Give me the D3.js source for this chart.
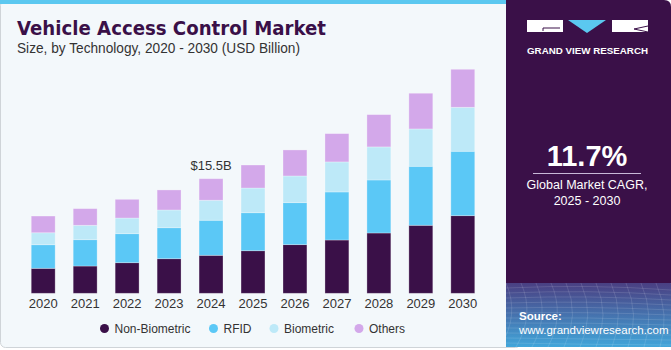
<!DOCTYPE html>
<html>
<head>
<meta charset="utf-8">
<script src="https://cdn.jsdelivr.net/npm/d3@7"></script>
<style>
  body { margin: 0; background: #fff; }
  svg { display: block; font-family: "Liberation Sans", Arial, sans-serif; }
</style>
</head>
<body>
<div id="chart"></div>
<script>
const years = ["2020","2021","2022","2023","2024","2025","2026","2027","2028","2029","2030"];
const nonBiometric = [3.38, 3.69, 4.14, 4.68, 5.14, 5.76, 6.58, 7.21, 8.16, 9.20, 10.50];
const rfid         = [3.19, 3.56, 3.92, 4.19, 4.74, 5.14, 5.68, 6.50, 7.17, 7.98, 8.71];
const biometric    = [1.62, 1.95, 2.12, 2.40, 2.71, 3.34, 3.61, 4.06, 4.47, 5.05, 5.95];
const others       = [2.26, 2.25, 2.53, 2.71, 2.91, 3.11, 3.52, 3.83, 4.37, 4.83, 5.14];
const seriesNames = ["Non-Biometric", "RFID", "Biometric", "Others"];
const seriesColors = ["#3a1048", "#5bc8f6", "#bde9f8", "#d3a8ea"];
const calloutYear = "2024", calloutLabel = "$15.5B";

let width = 671, height = 350,
    margin = ({ top: 60, right: 186, bottom: 57, left: 22 });

const svg = d3.select("#chart").append("svg")
  .attr("width", width).attr("height", height)
  .attr("viewBox", [0, 0, width, height]);

// background panels
svg.append("rect").attr("x", 0).attr("y", 0).attr("width", width).attr("height", height).attr("fill", "#ffffff");
svg.append("rect").attr("x", 0.5).attr("y", 0.5).attr("width", 520).attr("height", 347)
  .attr("rx", 5).attr("fill", "#f3f8fb").attr("stroke", "#cfd4d8");
svg.append("rect").attr("x", 0).attr("y", 0).attr("width", 508).attr("height", 4).attr("fill", "#5bc8f0");

const defs = svg.append("defs");
const grad = defs.append("linearGradient").attr("id", "src").attr("x1", 0).attr("y1", 0).attr("x2", 0).attr("y2", 1);
grad.append("stop").attr("offset", 0).attr("stop-color", "#4a3f82");
grad.append("stop").attr("offset", 1).attr("stop-color", "#41a6da");

svg.append("path")
  .attr("d", `M506,0 H664 Q671,0 671,7 V347 H506 Z`)
  .attr("fill", "#3a1048");
svg.append("rect").attr("x", 506).attr("y", 283).attr("width", 165).attr("height", 64).attr("fill", "url(#src)");

// faint mesh lines in the source area
const mesh = svg.append("g").attr("stroke", "#ffffff").attr("stroke-opacity", 0.12).attr("fill", "none");
for (let i = 0; i < 12; i++) {
  mesh.append("path").attr("d", `M${506 + i * 15},283 Q${520 + i * 15},315 ${500 + i * 16},347`);
  mesh.append("path").attr("d", `M506,${288 + i * 5} Q590,${284 + i * 5.5} 671,${290 + i * 5}`);
}

// title
svg.append("text").attr("x", 17).attr("y", 35).text("Vehicle Access Control Market")
  .attr("font-size", 20).attr("font-weight", 900).attr("fill", "#3a1048")
  .attr("textLength", 309).attr("lengthAdjust", "spacingAndGlyphs")
  .style("font-family", "'DejaVu Sans', sans-serif");
svg.append("text").attr("x", 17).attr("y", 53).text("Size, by Technology, 2020 - 2030 (USD Billion)")
  .attr("font-size", 14).attr("fill", "#333").attr("textLength", 283).attr("lengthAdjust", "spacingAndGlyphs");

// logo
const logo = svg.append("g");
logo.append("rect").attr("x", 527).attr("y", 20).attr("width", 36).attr("height", 12).attr("fill", "#fff");
logo.append("path").attr("d", "M543,28 V31 M543,28 H560").attr("stroke", "#3a1048").attr("stroke-width", 1);
logo.append("path").attr("d", "M568,20 H606 L587,33 Z").attr("fill", "#5bc8f0");
logo.append("rect").attr("x", 612).attr("y", 20).attr("width", 36).attr("height", 12).attr("fill", "#fff");
logo.append("path").attr("d", "M634,29 L648,32 M634,29 L648,26").attr("stroke", "#3a1048").attr("stroke-width", 1);
logo.append("text").attr("x", 587.5).attr("y", 54).attr("text-anchor", "middle").text("GRAND VIEW RESEARCH")
  .attr("font-size", 9).attr("font-weight", "bold").attr("fill", "#fff")
  .attr("textLength", 121).attr("lengthAdjust", "spacingAndGlyphs");

// CAGR
svg.append("text").attr("x", 587).attr("y", 166).attr("text-anchor", "middle").text("11.7%")
  .attr("font-size", 29).attr("font-weight", "bold").attr("fill", "#fff");
svg.append("line").attr("x1", 533).attr("x2", 641).attr("y1", 173.5).attr("y2", 173.5)
  .attr("stroke", "#c8b8d8").attr("stroke-width", 1.2);
svg.append("text").attr("x", 587).attr("y", 189).attr("text-anchor", "middle").text("Global Market CAGR,")
  .attr("font-size", 12.5).attr("fill", "#fff");
svg.append("text").attr("x", 587).attr("y", 205).attr("text-anchor", "middle").text("2025 - 2030")
  .attr("font-size", 12.5).attr("fill", "#fff");

// source
svg.append("text").attr("x", 519).attr("y", 320).text("Source:")
  .attr("font-size", 11.5).attr("font-weight", "bold").attr("fill", "#fff");
svg.append("text").attr("x", 519).attr("y", 333.5).text("www.grandviewresearch.com")
  .attr("font-size", 11.5).attr("fill", "#fff");

// chart
const data = years.map((y, i) => ({
  year: y,
  "Non-Biometric": nonBiometric[i], "RFID": rfid[i], "Biometric": biometric[i], "Others": others[i]
}));
const stacked = d3.stack().keys(seriesNames)(data);

let x = d3.scaleBand().domain(years).range([22, 484]).paddingInner(0.43).paddingOuter(0.22);
let y = d3.scaleLinear().domain([0, 15.5]).range([293.3, 178.7]);
let color = d3.scaleOrdinal().domain(seriesNames).range(seriesColors);

svg.append("g").selectAll("g").data(stacked).join("g")
  .attr("fill", d => color(d.key))
  .selectAll("rect").data(d => d).join("rect")
  .attr("x", d => x(d.data.year))
  .attr("y", d => y(d[1]))
  .attr("width", x.bandwidth())
  .attr("height", d => y(d[0]) - y(d[1]))
  .attr("stroke", "#ffffff").attr("stroke-opacity", 0.35).attr("stroke-width", 0.8);

const xAxis = svg.append("g")
  .attr("transform", `translate(0,${y(0)})`)
  .call(d3.axisBottom(x).tickSize(0).tickPadding(5));
xAxis.select(".domain").remove();
xAxis.selectAll("text").attr("font-size", 13).attr("fill", "#333").style("font-family", "'Liberation Sans', Arial, sans-serif");

let calloutTotal = stacked[stacked.length - 1][years.indexOf(calloutYear)][1];
svg.append("text").attr("x", x(calloutYear) + x.bandwidth() / 2).attr("y", y(calloutTotal) - 9)
  .attr("text-anchor", "middle").text(calloutLabel).attr("font-size", 13).attr("fill", "#333");

// legend
const legendX = [104.5, 213.5, 274, 359];
const legend = svg.append("g").selectAll("g").data(seriesNames).join("g")
  .attr("transform", (d, i) => `translate(${legendX[i]},328.5)`);
legend.append("circle").attr("r", 4.5).attr("fill", d => color(d));
legend.append("text").attr("x", 10).attr("dy", "0.35em").text(d => d)
  .attr("font-size", 12).attr("fill", "#333");
</script>
</body>
</html>
